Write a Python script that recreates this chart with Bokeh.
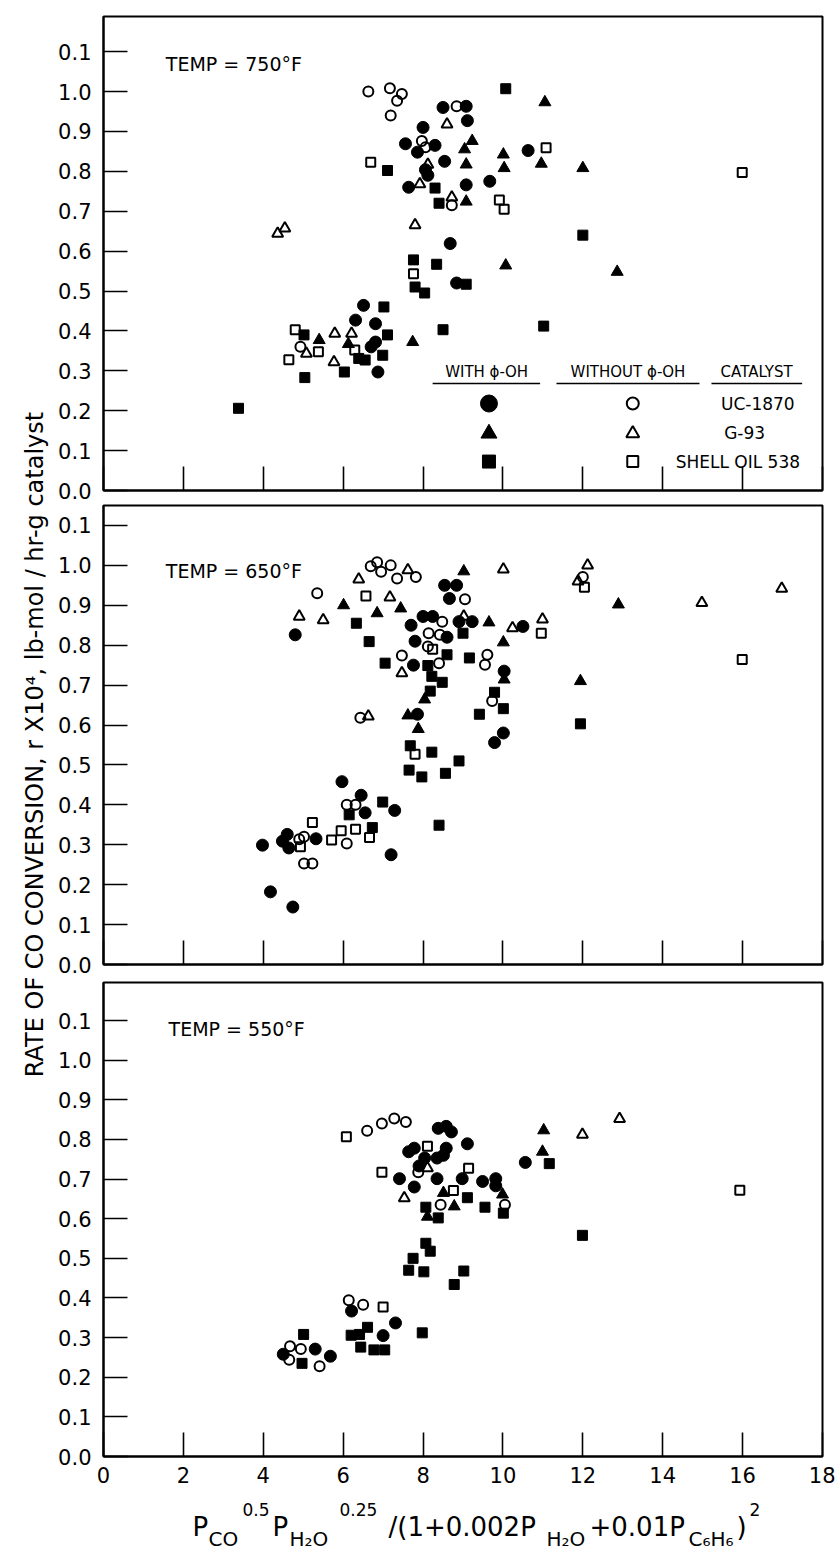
import math
from bokeh.plotting import figure
from bokeh.models import Range1d, FixedTicker, Label
from bokeh.layouts import row, column
from bokeh.embed import file_html
from bokeh.resources import INLINE

FONT = "DejaVu Sans"

# ---------------- axis ticks ----------------
X_TICKS = [0, 2, 4, 6, 8, 10, 12, 14, 16, 18]
X_TICK_LABELS = ["0", "2", "4", "6", "8", "10", "12", "14", "16", "18"]
Y_TICKS = [0.0, 0.1, 0.2, 0.3, 0.4, 0.5, 0.6, 0.7, 0.8, 0.9, 1.0, 1.1]
Y_TICK_LABELS = ["0.0", "0.1", "0.2", "0.3", "0.4", "0.5", "0.6", "0.7", "0.8", "0.9", "1.0", "0.1"]

# ---------------- 750 F ----------------
T750_UC_WITH_X = [8.50, 9.08, 9.11, 8.00, 7.56, 7.86, 8.30, 8.06, 8.12, 8.54, 9.08, 9.67, 7.64, 10.63, 8.68, 8.84, 6.51, 6.31, 6.81, 6.81, 6.70, 6.87]
T750_UC_WITH_Y = [0.960, 0.963, 0.927, 0.910, 0.869, 0.848, 0.865, 0.804, 0.790, 0.825, 0.766, 0.775, 0.760, 0.852, 0.619, 0.520, 0.464, 0.427, 0.418, 0.372, 0.360, 0.297]
T750_UC_WITHOUT_X = [6.63, 7.17, 7.47, 7.35, 7.19, 8.84, 7.97, 8.06, 8.72, 4.93]
T750_UC_WITHOUT_Y = [1.000, 1.008, 0.994, 0.977, 0.940, 0.963, 0.876, 0.860, 0.715, 0.360]
T750_G93_WITH_X = [11.05, 9.23, 9.04, 10.01, 9.08, 10.03, 10.96, 12.00, 9.08, 10.07, 12.86, 7.74, 6.13, 5.40]
T750_G93_WITH_Y = [0.973, 0.876, 0.855, 0.842, 0.817, 0.808, 0.819, 0.808, 0.724, 0.564, 0.548, 0.372, 0.367, 0.377]
T750_G93_WITHOUT_X = [8.60, 8.12, 7.92, 8.72, 7.80, 4.36, 4.54, 6.21, 5.79, 5.77, 5.08]
T750_G93_WITHOUT_Y = [0.918, 0.817, 0.768, 0.735, 0.665, 0.644, 0.657, 0.393, 0.393, 0.322, 0.343]
T750_SH_WITH_X = [10.07, 7.11, 8.30, 8.40, 12.00, 7.76, 8.34, 7.80, 8.04, 9.08, 7.02, 7.11, 8.50, 11.02, 6.99, 6.03, 6.39, 6.55, 5.02, 5.04, 3.38]
T750_SH_WITH_Y = [1.007, 0.802, 0.758, 0.720, 0.640, 0.578, 0.567, 0.510, 0.495, 0.517, 0.460, 0.390, 0.403, 0.412, 0.339, 0.297, 0.331, 0.327, 0.390, 0.283, 0.206]
T750_SH_WITHOUT_X = [6.69, 11.08, 9.91, 10.03, 15.99, 7.76, 6.29, 4.80, 5.38, 4.64]
T750_SH_WITHOUT_Y = [0.823, 0.859, 0.728, 0.705, 0.797, 0.543, 0.352, 0.403, 0.348, 0.328]

# ---------------- 650 F ----------------
T650_UC_WITH_X = [8.54, 8.84, 8.66, 4.80, 7.70, 8.00, 8.24, 7.80, 7.76, 8.60, 8.90, 9.23, 10.50, 10.03, 7.86, 10.01, 9.79, 5.97, 6.45, 6.55, 7.29, 7.20, 3.98, 4.60, 4.48, 4.64, 5.32, 4.18, 4.74]
T650_UC_WITH_Y = [0.950, 0.950, 0.917, 0.826, 0.850, 0.872, 0.872, 0.810, 0.750, 0.820, 0.859, 0.859, 0.847, 0.735, 0.627, 0.580, 0.556, 0.458, 0.424, 0.380, 0.386, 0.275, 0.299, 0.326, 0.309, 0.292, 0.315, 0.182, 0.144]
T650_UC_WITHOUT_X = [6.69, 6.85, 6.95, 7.19, 7.35, 7.82, 5.35, 9.05, 8.48, 8.14, 8.42, 8.12, 7.47, 9.61, 9.55, 9.73, 6.43, 8.40, 12.00, 6.09, 6.31, 6.09, 4.90, 5.02, 5.02, 5.23]
T650_UC_WITHOUT_Y = [0.998, 1.008, 0.984, 1.000, 0.967, 0.971, 0.930, 0.915, 0.859, 0.830, 0.826, 0.797, 0.774, 0.776, 0.751, 0.660, 0.618, 0.755, 0.971, 0.400, 0.400, 0.303, 0.314, 0.320, 0.253, 0.253]
T650_G93_WITH_X = [9.02, 6.01, 6.85, 7.44, 9.65, 10.01, 10.03, 12.89, 11.94, 7.62, 7.88, 8.04]
T650_G93_WITH_Y = [0.985, 0.900, 0.880, 0.892, 0.857, 0.807, 0.714, 0.902, 0.710, 0.624, 0.590, 0.664]
T650_G93_WITHOUT_X = [6.39, 7.62, 7.17, 10.01, 4.90, 5.50, 9.02, 10.24, 10.99, 7.47, 12.12, 11.88, 14.98, 16.98, 6.63]
T650_G93_WITHOUT_Y = [0.965, 0.988, 0.920, 0.990, 0.872, 0.863, 0.872, 0.843, 0.865, 0.730, 1.000, 0.960, 0.906, 0.942, 0.622]
T650_SH_WITH_X = [6.33, 6.65, 7.05, 8.60, 9.16, 8.48, 8.12, 8.22, 8.18, 9.79, 9.41, 10.01, 11.94, 7.68, 8.22, 9.00, 7.65, 7.97, 8.56, 8.90, 6.15, 6.99, 8.40, 6.73]
T650_SH_WITH_Y = [0.855, 0.809, 0.755, 0.776, 0.768, 0.707, 0.749, 0.722, 0.685, 0.682, 0.627, 0.641, 0.603, 0.548, 0.532, 0.830, 0.487, 0.470, 0.479, 0.510, 0.375, 0.407, 0.349, 0.343]
T650_SH_WITHOUT_X = [6.57, 15.99, 10.96, 8.24, 12.04, 7.80, 5.23, 5.95, 6.31, 6.66, 5.71, 4.93]
T650_SH_WITHOUT_Y = [0.923, 0.764, 0.830, 0.790, 0.945, 0.527, 0.356, 0.335, 0.339, 0.318, 0.312, 0.295]

# ---------------- 550 F ----------------
T550_UC_WITH_X = [8.38, 8.58, 8.71, 8.58, 8.51, 9.11, 7.64, 7.78, 8.04, 8.35, 7.90, 7.41, 7.78, 8.35, 8.98, 9.49, 9.82, 9.82, 10.56, 6.21, 7.31, 7.00, 5.68, 5.30, 4.50]
T550_UC_WITH_Y = [0.828, 0.833, 0.819, 0.778, 0.760, 0.789, 0.769, 0.778, 0.753, 0.753, 0.733, 0.701, 0.680, 0.701, 0.701, 0.694, 0.701, 0.683, 0.742, 0.367, 0.337, 0.305, 0.253, 0.271, 0.258]
T550_UC_WITHOUT_X = [6.60, 6.97, 7.28, 7.57, 7.88, 8.44, 10.05, 6.14, 6.50, 4.67, 4.94, 4.65, 5.41]
T550_UC_WITHOUT_Y = [0.822, 0.840, 0.853, 0.844, 0.717, 0.635, 0.635, 0.394, 0.383, 0.278, 0.271, 0.244, 0.228]
T550_G93_WITH_X = [11.02, 10.99, 8.11, 8.78, 8.51, 9.99]
T550_G93_WITH_Y = [0.823, 0.769, 0.605, 0.631, 0.665, 0.661]
T550_G93_WITHOUT_X = [12.92, 11.99, 7.53, 8.11]
T550_G93_WITHOUT_Y = [0.852, 0.812, 0.652, 0.728]
T550_SH_WITH_X = [11.16, 9.11, 9.55, 10.01, 8.07, 8.38, 11.99, 8.07, 8.18, 7.75, 7.64, 8.02, 9.02, 8.78, 7.98, 6.61, 6.20, 6.41, 6.44, 6.77, 7.04, 5.01, 4.97]
T550_SH_WITH_Y = [0.739, 0.653, 0.629, 0.614, 0.629, 0.602, 0.558, 0.538, 0.518, 0.500, 0.470, 0.466, 0.468, 0.434, 0.312, 0.326, 0.306, 0.308, 0.276, 0.269, 0.269, 0.308, 0.235]
T550_SH_WITHOUT_X = [6.08, 8.11, 9.14, 8.76, 6.97, 7.00, 15.93]
T550_SH_WITHOUT_Y = [0.807, 0.783, 0.727, 0.671, 0.717, 0.377, 0.672]

# ---------------- legend (top panel) ----------------
LEGEND_HEADERS = ["WITH ϕ-OH", "WITHOUT ϕ-OH", "CATALYST"]
LEGEND_CATALYSTS = ["UC-1870", "G-93", "SHELL OIL 538"]

# ---------------- titles ----------------
Y_TITLE = "RATE OF CO CONVERSION, r X10⁴, lb-mol / hr-g catalyst"
X_TITLE_PARTS = ["P", "CO", "0.5", "P", "H₂O", "0.25", "/(1+0.002P", "H₂O", "+0.01P", "C₆H₆", ")", "2"]
X_TITLE_ROLES = ["main", "sub", "sup", "main", "sub", "sup", "main", "sub", "main", "sub", "main", "sup"]
X_TITLE_LEFT = [192, 208, 242, 272, 289, 339, 388, 546, 589, 688, 736, 749]

FILLED = dict(fill_color="black", line_color="black", line_width=1)
OPEN = dict(fill_color=None, line_color="black", line_width=2)
STYLES = {
    "uc_with": dict(marker="circle", size=12, **FILLED),
    "uc_without": dict(marker="circle", size=10, **OPEN),
    "g93_with": dict(marker="triangle", size=12, **FILLED),
    "g93_without": dict(marker="triangle", size=11, **OPEN),
    "sh_with": dict(marker="square", size=10, **FILLED),
    "sh_without": dict(marker="square", size=9, **OPEN),
}

TITLE_W = 50
MAIN_W = 785
FRAME_LEFT = 103


def make_panel(height, top, bottom, ymax, show_xlabels):
    p = figure(width=MAIN_W, height=height, x_range=Range1d(0, 18), y_range=Range1d(0, ymax),
               output_backend="svg", toolbar_location=None,
               min_border_left=FRAME_LEFT - TITLE_W, min_border_right=13,
               min_border_top=top, min_border_bottom=bottom)
    p.grid.visible = False
    p.outline_line_color = "black"
    p.outline_line_width = 2
    p.background_fill_color = "white"
    p.border_fill_color = "white"
    for ax in p.axis:
        ax.axis_line_width = 2
        ax.axis_line_color = "black"
        ax.major_tick_in = 24
        ax.major_tick_out = 0
        ax.major_tick_line_width = 1.6
        ax.major_tick_line_color = "black"
        ax.minor_tick_line_color = None
        ax.major_label_text_font = FONT
        ax.major_label_text_font_size = "21px"
        ax.major_label_text_color = "black"
    p.xaxis.ticker = FixedTicker(ticks=X_TICKS)
    p.yaxis.ticker = FixedTicker(ticks=Y_TICKS)
    p.yaxis.major_label_overrides = dict(zip(Y_TICKS, Y_TICK_LABELS))
    p.yaxis.major_label_standoff = 12
    if show_xlabels:
        p.xaxis.major_label_overrides = dict(zip(X_TICKS, X_TICK_LABELS))
        p.xaxis.major_label_standoff = 10
    else:
        p.xaxis.major_label_text_font_size = "1px"
        p.xaxis.major_label_text_color = None
        p.xaxis.major_label_standoff = 0
    return p


def add_series(p, xs, ys, key):
    p.scatter(xs, ys, **STYLES[key])


def add_temp(p, text, x, y):
    p.add_layout(Label(x=x, y=y, text=text, text_font=FONT, text_font_size="19px",
                       text_baseline="middle", text_align="left", text_color="black"))


# ---------- top panel (750 F) ----------
p1 = make_panel(503, 16, 13, 1.188, False)
add_series(p1, T750_UC_WITH_X, T750_UC_WITH_Y, "uc_with")
add_series(p1, T750_UC_WITHOUT_X, T750_UC_WITHOUT_Y, "uc_without")
add_series(p1, T750_G93_WITH_X, T750_G93_WITH_Y, "g93_with")
add_series(p1, T750_G93_WITHOUT_X, T750_G93_WITHOUT_Y, "g93_without")
add_series(p1, T750_SH_WITH_X, T750_SH_WITH_Y, "sh_with")
add_series(p1, T750_SH_WITHOUT_X, T750_SH_WITHOUT_Y, "sh_without")
add_temp(p1, "TEMP = 750°F", 1.56, 1.07)

# legend
hdr_x = [9.59, 13.13, 16.35]
hdr_y = 0.2975
for t, x in zip(LEGEND_HEADERS, hdr_x):
    p1.add_layout(Label(x=x, y=hdr_y, text=t, text_font=FONT, text_font_size="15px",
                        text_align="center", text_baseline="middle", text_color="black"))
p1.segment(x0=[8.24, 11.34, 15.22], y0=[0.268] * 3, x1=[10.93, 14.92, 17.49], y1=[0.268] * 3,
           line_color="black", line_width=1.6)
row_y = [0.218, 0.143, 0.0725]
p1.scatter([9.65], [row_y[0]], marker="circle", size=17, fill_color="black", line_color="black")
p1.scatter([9.65], [row_y[1]], marker="triangle", size=16, fill_color="black", line_color="black")
p1.scatter([9.65], [row_y[2]], marker="square", size=13, fill_color="black", line_color="black")
p1.scatter([13.25], [row_y[0]], marker="circle", size=12, fill_color=None, line_color="black", line_width=2)
p1.scatter([13.25], [row_y[1]], marker="triangle", size=13, fill_color=None, line_color="black", line_width=2)
p1.scatter([13.25], [row_y[2]], marker="square", size=11, fill_color=None, line_color="black", line_width=2)
for t, x, y in zip(LEGEND_CATALYSTS, [16.38, 16.05, 15.88], row_y):
    p1.add_layout(Label(x=x, y=y, text=t, text_font=FONT, text_font_size="17px",
                        text_align="center", text_baseline="middle", text_color="black"))

# ---------- middle panel (650 F) ----------
p2 = make_panel(474, 2, 13, 1.150, False)
add_series(p2, T650_UC_WITH_X, T650_UC_WITH_Y, "uc_with")
add_series(p2, T650_UC_WITHOUT_X, T650_UC_WITHOUT_Y, "uc_without")
add_series(p2, T650_G93_WITH_X, T650_G93_WITH_Y, "g93_with")
add_series(p2, T650_G93_WITHOUT_X, T650_G93_WITHOUT_Y, "g93_without")
add_series(p2, T650_SH_WITH_X, T650_SH_WITH_Y, "sh_with")
add_series(p2, T650_SH_WITHOUT_X, T650_SH_WITHOUT_Y, "sh_without")
add_temp(p2, "TEMP = 650°F", 1.56, 0.985)

# ---------- bottom panel (550 F) ----------
p3 = make_panel(515, 5, 36, 1.196, True)
add_series(p3, T550_UC_WITH_X, T550_UC_WITH_Y, "uc_with")
add_series(p3, T550_UC_WITHOUT_X, T550_UC_WITHOUT_Y, "uc_without")
add_series(p3, T550_G93_WITH_X, T550_G93_WITH_Y, "g93_with")
add_series(p3, T550_G93_WITHOUT_X, T550_G93_WITHOUT_Y, "g93_without")
add_series(p3, T550_SH_WITH_X, T550_SH_WITH_Y, "sh_with")
add_series(p3, T550_SH_WITHOUT_X, T550_SH_WITHOUT_Y, "sh_without")
add_temp(p3, "TEMP = 550°F", 1.63, 1.079)

# ---------- x title strip (pieces with sub/superscripts) ----------
STRIP_H = 60
px = figure(width=MAIN_W, height=STRIP_H, x_range=Range1d(0, 1), y_range=Range1d(0, 1),
            output_backend="svg", toolbar_location=None, min_border=0)
px.axis.visible = False
px.grid.visible = False
px.outline_line_color = None
ROLE_Y = {"main": 26, "sub": 14, "sup": 43}
ROLE_SIZE = {"main": "26px", "sub": "20px", "sup": "17px"}
for t, r, xl in zip(X_TITLE_PARTS, X_TITLE_ROLES, X_TITLE_LEFT):
    px.add_layout(Label(x=xl - FRAME_LEFT, y=ROLE_Y[r], x_units="screen", y_units="screen",
                        text=t, text_font=FONT, text_font_size=ROLE_SIZE[r],
                        text_align="left", text_baseline="alphabetic", text_color="black"))

# ---------- y title strip ----------
pt = figure(width=TITLE_W, height=1552, x_range=Range1d(0, 1), y_range=Range1d(0, 1),
            output_backend="svg", toolbar_location=None, min_border=0)
pt.axis.visible = False
pt.grid.visible = False
pt.outline_line_color = None
pt.add_layout(Label(x=34, y=1552 - 744, x_units="screen", y_units="screen", text=Y_TITLE,
                    angle=math.pi / 2, text_font=FONT, text_font_size="24px",
                    text_align="center", text_baseline="middle", text_color="black"))

layout = row(pt, column(p1, p2, p3, px))
open("out.html", "w").write(file_html(layout, INLINE))
